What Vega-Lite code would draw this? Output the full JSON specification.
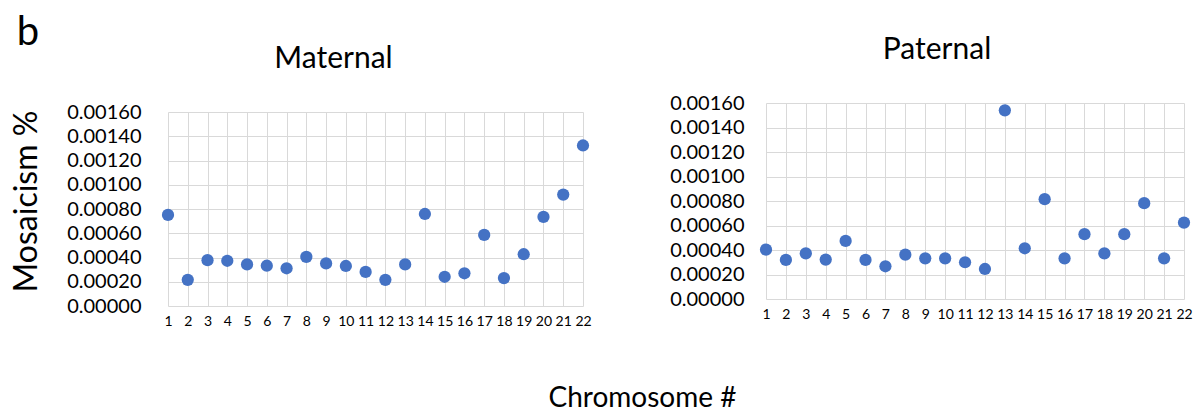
{
  "$schema": "https://vega.github.io/schema/vega-lite/v6.json",
  "padding": {"left": 10, "top": 13, "right": 5, "bottom": 0},
  "background": "white",
  "datasets": {
    "maternal": [
      {"chr": 1, "value": 0.000751}, {"chr": 2, "value": 0.000216}, {"chr": 3, "value": 0.000378},
      {"chr": 4, "value": 0.000373}, {"chr": 5, "value": 0.000343}, {"chr": 6, "value": 0.000332},
      {"chr": 7, "value": 0.000311}, {"chr": 8, "value": 0.000405}, {"chr": 9, "value": 0.000351},
      {"chr": 10, "value": 0.000330}, {"chr": 11, "value": 0.000281}, {"chr": 12, "value": 0.000216},
      {"chr": 13, "value": 0.000343}, {"chr": 14, "value": 0.000759}, {"chr": 15, "value": 0.000241},
      {"chr": 16, "value": 0.000270}, {"chr": 17, "value": 0.000586}, {"chr": 18, "value": 0.000230},
      {"chr": 19, "value": 0.000427}, {"chr": 20, "value": 0.000735}, {"chr": 21, "value": 0.000919},
      {"chr": 22, "value": 0.001324}
    ],
    "paternal": [
      {"chr": 1, "value": 0.000403}, {"chr": 2, "value": 0.000319}, {"chr": 3, "value": 0.000373},
      {"chr": 4, "value": 0.000322}, {"chr": 5, "value": 0.000474}, {"chr": 6, "value": 0.000319},
      {"chr": 7, "value": 0.000267}, {"chr": 8, "value": 0.000362}, {"chr": 9, "value": 0.000332},
      {"chr": 10, "value": 0.000332}, {"chr": 11, "value": 0.000300}, {"chr": 12, "value": 0.000245},
      {"chr": 13, "value": 0.001540}, {"chr": 14, "value": 0.000414}, {"chr": 15, "value": 0.000815},
      {"chr": 16, "value": 0.000332}, {"chr": 17, "value": 0.000529}, {"chr": 18, "value": 0.000373},
      {"chr": 19, "value": 0.000529}, {"chr": 20, "value": 0.000782}, {"chr": 21, "value": 0.000332},
      {"chr": 22, "value": 0.000624}
    ],
    "empty": []
  },
  "title": {
    "text": "b",
    "anchor": "start",
    "orient": "top",
    "offset": -18,
    "dx": 6,
    "fontSize": 40,
    "fontWeight": "normal",
    "font": "Lato",
    "color": "#000000"
  },
  "vconcat": [
    {
      "title": {
        "text": "Chromosome #",
        "orient": "bottom",
        "anchor": "middle",
        "offset": 57,
        "dx": 41,
        "fontSize": 28,
        "fontWeight": "normal",
        "font": "Lato",
        "color": "#000000"
      },
      "spacing": 77,
      "hconcat": [
        {
          "spacing": -60,
          "vconcat": [
            {
              "width": 1,
              "height": 1,
              "data": {"name": "empty"},
              "mark": {"type": "point", "opacity": 0},
              "encoding": {}
            },
            {
              "width": 415,
              "height": 194,
              "data": {"name": "maternal"},
              "title": {
                "text": "Maternal",
                "fontSize": 30,
                "fontWeight": "normal",
                "font": "Lato",
                "color": "#000000",
                "offset": 28,
                "dx": -42
              },
              "mark": {"type": "circle", "size": 150, "color": "#4472C4", "opacity": 1},
              "encoding": {
                "x": {
                  "field": "chr",
                  "type": "quantitative",
                  "scale": {"domain": [1, 22], "nice": false, "zero": false},
                  "axis": {
                    "title": null,
                    "values": [1, 2, 3, 4, 5, 6, 7, 8, 9, 10, 11, 12, 13, 14, 15, 16, 17, 18, 19, 20, 21, 22],
                    "format": "d",
                    "labelFontSize": 14,
                    "labelFlush": false,
                    "labelOverlap": false,
                    "labelPadding": 8,
                    "ticks": false,
                    "domain": false
                  }
                },
                "y": {
                  "field": "value",
                  "type": "quantitative",
                  "scale": {"domain": [0, 0.0016], "nice": false},
                  "axis": {
                    "title": "Mosaicism %",
                    "titleFontSize": 32,
                    "titleFontWeight": "normal",
                    "titlePadding": 23,
                    "titleY": 89,
                    "values": [0, 0.0002, 0.0004, 0.0006, 0.0008, 0.001, 0.0012, 0.0014, 0.0016],
                    "format": ".5f",
                    "labelFontSize": 20,
                    "labelPadding": 27,
                    "labelOverlap": false,
                    "ticks": false,
                    "domain": false
                  }
                }
              }
            }
          ]
        },
        {
          "width": 418,
          "height": 196,
          "data": {"name": "paternal"},
          "title": {
            "text": "Paternal",
            "fontSize": 30,
            "fontWeight": "normal",
            "font": "Lato",
            "color": "#000000",
            "offset": 28,
            "dx": -38
          },
          "mark": {"type": "circle", "size": 150, "color": "#4472C4", "opacity": 1},
          "encoding": {
            "x": {
              "field": "chr",
              "type": "quantitative",
              "scale": {"domain": [1, 22], "nice": false, "zero": false},
              "axis": {
                "title": null,
                "values": [1, 2, 3, 4, 5, 6, 7, 8, 9, 10, 11, 12, 13, 14, 15, 16, 17, 18, 19, 20, 21, 22],
                "format": "d",
                "labelFontSize": 14,
                "labelFlush": false,
                "labelOverlap": false,
                "labelPadding": 8,
                "ticks": false,
                "domain": false
              }
            },
            "y": {
              "field": "value",
              "type": "quantitative",
              "scale": {"domain": [0, 0.0016], "nice": false},
              "axis": {
                "title": null,
                "values": [0, 0.0002, 0.0004, 0.0006, 0.0008, 0.001, 0.0012, 0.0014, 0.0016],
                "format": ".5f",
                "labelFontSize": 20,
                "labelPadding": 22,
                "labelOverlap": false,
                "ticks": false,
                "domain": false
              }
            }
          }
        }
      ]
    }
  ],
  "config": {
    "view": {"stroke": null},
    "font": "Lato",
    "axis": {
      "labelFont": "Lato",
      "titleFont": "Lato",
      "labelColor": "#000000",
      "titleColor": "#000000",
      "gridColor": "#d9d9d9",
      "gridWidth": 1,
      "gridOpacity": 1
    }
  }
}
